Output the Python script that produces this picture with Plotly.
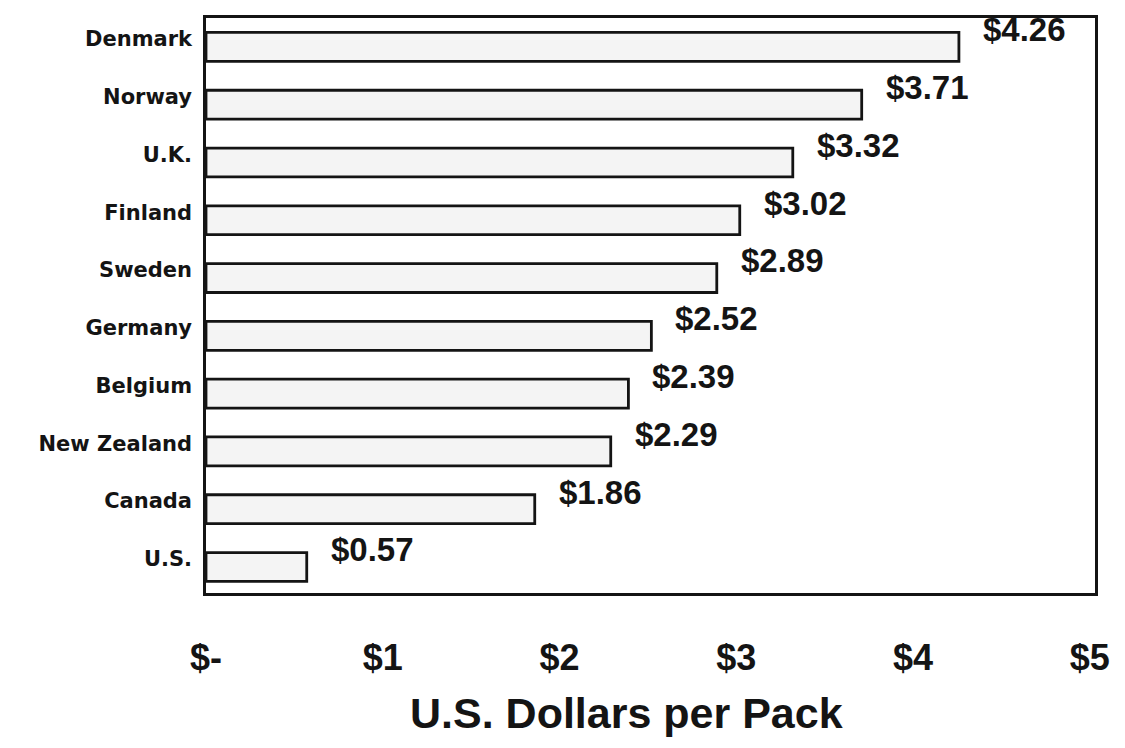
import plotly.graph_objects as go

countries = ["Denmark", "Norway", "U.K.", "Finland", "Sweden", "Germany",
             "Belgium", "New Zealand", "Canada", "U.S."]
prices = [4.26, 3.71, 3.32, 3.02, 2.89, 2.52, 2.39, 2.29, 1.86, 0.57]
price_labels = ["$4.26", "$3.71", "$3.32", "$3.02", "$2.89", "$2.52",
                "$2.39", "$2.29", "$1.86", "$0.57"]
tick_vals = [0, 1, 2, 3, 4, 5]
tick_text = ["$-", "$1", "$2", "$3", "$4", "$5"]
x_title = "U.S. Dollars per Pack"

ARIAL = "Liberation Sans, Arial, sans-serif"
DEJAVU = "DejaVu Sans, Verdana, sans-serif"
INK = "#141414"

fig = go.Figure()
fig.add_trace(go.Bar(
    x=prices, y=countries, orientation="h",
    marker=dict(color="#f4f4f4", line=dict(color=INK, width=2.8)),
    width=0.5, offset=-0.39, hoverinfo="skip",
))

for c, v, t in zip(countries, prices, price_labels):
    fig.add_annotation(x=v, y=c, text=t, showarrow=False, xanchor="left",
                       yanchor="middle", xshift=22, yshift=9,
                       font=dict(family=ARIAL, size=33, color=INK,
                                 weight="bold"))

fig.add_annotation(xref="paper", yref="paper", x=0.473, y=-0.254,
                   xanchor="center", yanchor="bottom", showarrow=False,
                   text=x_title,
                   font=dict(family=ARIAL, size=43, color=INK, weight="bold"))

fig.update_layout(
    width=1109, height=732,
    margin=dict(l=198, r=20, t=7, b=147),
    paper_bgcolor="white", plot_bgcolor="white",
    showlegend=False,
    xaxis=dict(range=[0, 5.03], tickmode="array", tickvals=tick_vals,
               ticktext=tick_text, ticklabeloverflow="allow",
               showgrid=False, zeroline=False, showline=True, mirror=True,
               linecolor=INK, linewidth=2.5, ticks="",
               tickfont=dict(family=ARIAL, size=36, color=INK,
                             weight="bold"),
               ticklabelstandoff=31),
    yaxis=dict(categoryorder="array", categoryarray=countries[::-1],
               range=[-0.59, 9.36], showgrid=False, zeroline=False,
               showline=True, mirror=True, linecolor=INK, linewidth=2.5,
               ticks="", ticklabelstandoff=7,
               tickfont=dict(family=DEJAVU, size=21, color=INK,
                             weight="bold")),
)

fig.write_html("out.html")
